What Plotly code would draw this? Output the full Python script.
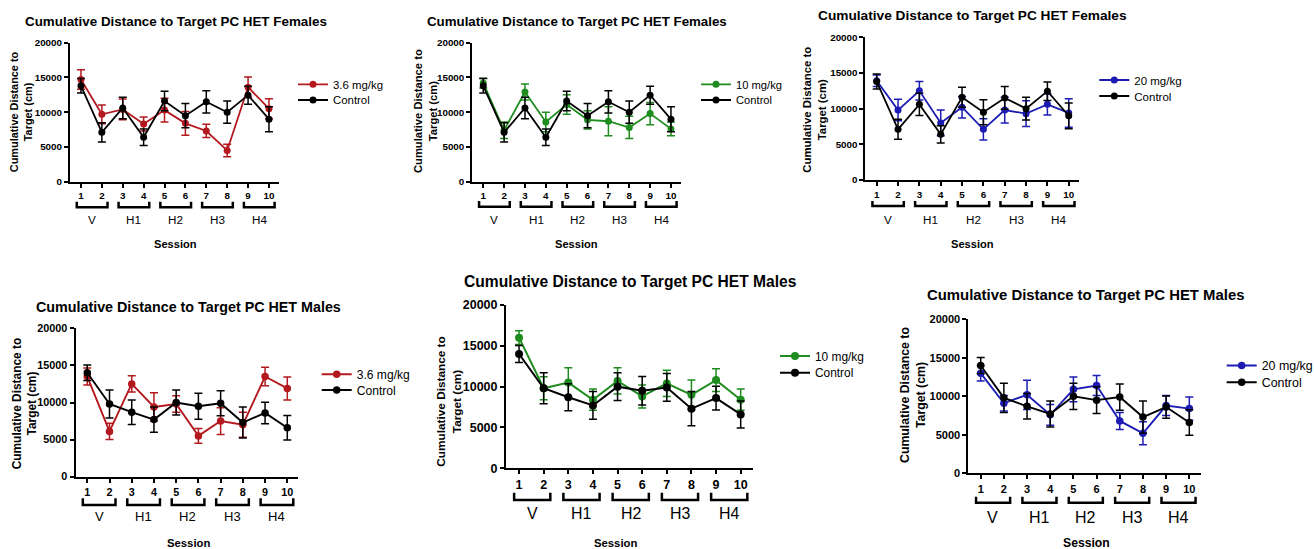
import plotly.graph_objects as go

W, H = 1314, 549
FONT = "Liberation Sans, Arial, sans-serif"

# ---------------- data ----------------
sessions = [1, 2, 3, 4, 5, 6, 7, 8, 9, 10]
session_labels = ["1", "2", "3", "4", "5", "6", "7", "8", "9", "10"]
groups = ["V", "H1", "H2", "H3", "H4"]
group_sessions = [(1, 2), (3, 4), (5, 6), (7, 8), (9, 10)]
y_ticks = [0, 5000, 10000, 15000, 20000]
y_tick_labels = ["0", "5000", "10000", "15000", "20000"]

female_control = [13800, 7100, 10600, 6400, 11600, 9500, 11500, 10000, 12450, 9000]
female_control_sem = [1050, 1400, 1550, 1200, 1400, 1750, 1600, 1600, 1300, 1800]
male_control = [14000, 9800, 8700, 7700, 10000, 9500, 9900, 7300, 8600, 6600]
male_control_sem = [1050, 1900, 1650, 1700, 1700, 1750, 1700, 2100, 1450, 1650]

female_36 = [14700, 9700, 10400, 8300, 10300, 8400, 7300, 4500, 13600, 10500]
female_36_sem = [1400, 1350, 1500, 1000, 1700, 1700, 950, 900, 1450, 1450]
female_10 = [14200, 7400, 12900, 8600, 11100, 8900, 8700, 7800, 9800, 7600]
female_10_sem = [700, 1200, 1150, 1400, 1400, 1300, 2100, 1600, 1600, 1000]
female_20 = [13900, 9800, 12500, 8000, 10200, 7100, 9800, 9300, 10600, 9400]
female_20_sem = [800, 1500, 1300, 1800, 1500, 1500, 1800, 1800, 1500, 2000]

male_36 = [13500, 6100, 12500, 9400, 9800, 5500, 7500, 7000, 13500, 11900]
male_36_sem = [1150, 1100, 1100, 1900, 1100, 1000, 1800, 1700, 1250, 1550]
male_10 = [16000, 9800, 10500, 8400, 10700, 8800, 10400, 9000, 10800, 8400]
male_10_sem = [850, 1400, 1800, 1300, 1600, 1400, 1600, 1800, 1400, 1300]
male_20 = [13000, 9100, 10200, 7600, 10900, 11400, 6800, 5200, 8800, 8400]
male_20_sem = [1000, 1000, 1900, 1350, 1600, 1300, 1100, 1500, 1300, 1500]

title_f = "Cumulative Distance to Target PC HET Females"
title_m = "Cumulative Distance to Target PC HET Males"
y_title = "Cumulative Distance to<br>Target (cm)"
x_title = "Session"
control_label = "Control"
dose_labels = ["3.6 mg/kg", "10 mg/kg", "20 mg/kg"]
dose_colors = ["#B3191E", "#1E8C1E", "#1C1CB4"]

panel_data = [
    (title_f, female_36, female_36_sem, 0, female_control, female_control_sem),
    (title_f, female_10, female_10_sem, 1, female_control, female_control_sem),
    (title_f, female_20, female_20_sem, 2, female_control, female_control_sem),
    (title_m, male_36, male_36_sem, 0, male_control, male_control_sem),
    (title_m, male_10, male_10_sem, 1, male_control, male_control_sem),
    (title_m, male_20, male_20_sem, 2, male_control, male_control_sem),
]

# ---------------- layout geometry (pixels) ----------------
panel_geo = [
    dict(x0=69.9, x1=279.4, ytop=42.7, ybot=181.7, tfs=13.4, tx=175.5, ty=21.7,
         yt_x=21.7, yt_y=111.5, ytfs=10.9, tickfs=9.8, leg_x=333, leg_y1=84.3, leg_y2=100, legfs=11.4,
         br_top=201.7, br_bar=207.3, gy=220, gfs=11.7, sx=175, sy=244.3, sfs=11.1, ms=7, lw=1.8),
    dict(x0=472.2, x1=681.4, ytop=42.7, ybot=181.7, tfs=13.3, tx=576.8, ty=21.7,
         yt_x=425, yt_y=111, ytfs=11.2, tickfs=9.8, leg_x=736, leg_y1=84.3, leg_y2=100, legfs=11.2,
         br_top=201, br_bar=206.7, gy=220, gfs=11.7, sx=576.7, sy=244.3, sfs=11.1, ms=7, lw=1.8),
    dict(x0=865.4, x1=1079.4, ytop=37.3, ybot=180, tfs=13.7, tx=972, ty=16,
         yt_x=814.7, yt_y=110, ytfs=11.4, tickfs=9.8, leg_x=1134.3, leg_y1=80, leg_y2=96, legfs=11.5,
         br_top=201, br_bar=206, gy=219, gfs=11.7, sx=972.3, sy=244, sfs=11.1, ms=7, lw=1.8),
    dict(x0=75.5, x1=298.4, ytop=328.3, ybot=476.7, tfs=14.3, tx=188.3, ty=306.7,
         yt_x=24, yt_y=403.3, ytfs=11.9, tickfs=10.8, leg_x=356.7, leg_y1=374.3, leg_y2=390, legfs=12.1,
         br_top=498.3, br_bar=505, gy=516.7, gfs=13, sx=188.3, sy=543.3, sfs=11.3, ms=7.5, lw=1.9),
    dict(x0=506, x1=753, ytop=305, ybot=468.3, tfs=15.6, tx=630, ty=281.7,
         yt_x=449, yt_y=401.7, ytfs=11.8, tickfs=12.5, leg_x=815, leg_y1=356, leg_y2=372.7, legfs=11.9,
         br_top=492.7, br_bar=500, gy=513.3, gfs=15.9, sx=615, sy=542.7, sfs=11.3, ms=8, lw=2),
    dict(x0=968.4, x1=1200.9, ytop=319.3, ybot=473.3, tfs=14.9, tx=1085.5, ty=295,
         yt_x=913, yt_y=395, ytfs=12.3, tickfs=11, leg_x=1261.7, leg_y1=366, leg_y2=382.7, legfs=12.4,
         br_top=496.7, br_bar=502.7, gy=517.3, gfs=16, sx=1086, sy=543.3, sfs=12.2, ms=7.5, lw=1.9),
]


def fx(px):
    return px / W


def fy(py):
    return 1 - py / H


fig = go.Figure()
layout = dict(
    width=W, height=H, margin=dict(l=0, r=0, t=0, b=0, pad=0, autoexpand=False),
    paper_bgcolor="white", plot_bgcolor="white",
    font=dict(family=FONT, color="black"),
    annotations=[], shapes=[],
)

legend_idx = 0
for i, ((title, vals, sem, dose_i, ctrl, ctrl_sem), g) in enumerate(zip(panel_data, panel_geo)):
    n = i + 1
    xa = "x" if n == 1 else f"x{n}"
    ya = "y" if n == 1 else f"y{n}"
    series = [
        (dose_labels[dose_i], vals, sem, dose_colors[dose_i], g["leg_y1"]),
        (control_label, ctrl, ctrl_sem, "black", g["leg_y2"]),
    ]
    for name, v, e, c, ly in series:
        legend_idx += 1
        lname = "legend" if legend_idx == 1 else f"legend{legend_idx}"
        fig.add_trace(go.Scatter(
            x=sessions, y=v, name=name, mode="lines+markers",
            line=dict(color=c, width=g["lw"]),
            marker=dict(color=c, size=g["ms"]),
            error_y=dict(type="data", array=e, color=c, thickness=1.5, width=4),
            xaxis=xa, yaxis=ya, legend=lname, showlegend=True,
        ))
        layout[lname] = dict(
            x=fx(g["leg_x"] - 40), y=fy(ly), xanchor="left", yanchor="middle",
            bgcolor="rgba(0,0,0,0)", borderwidth=0, itemwidth=30,
            font=dict(family=FONT, size=g["legfs"], color="black"),
            tracegroupgap=0,
        )

    tickfont = dict(family=FONT, size=g["tickfs"], color="black", weight="bold")
    layout[f"xaxis{'' if n == 1 else n}"] = dict(
        domain=[fx(g["x0"]), fx(g["x1"])], range=[0.47, 10.5], anchor=ya,
        tickmode="array", tickvals=sessions, ticktext=session_labels,
        showline=True, linewidth=2, linecolor="black", ticks="outside",
        ticklen=4, tickwidth=1.5, tickcolor="black", tickfont=tickfont,
        showgrid=False, zeroline=False, automargin=False,
    )
    layout[f"yaxis{'' if n == 1 else n}"] = dict(
        domain=[fy(g["ybot"]), fy(g["ytop"])], range=[0, 20000], anchor=xa,
        tickmode="array", tickvals=y_ticks, ticktext=y_tick_labels,
        showline=True, linewidth=2, linecolor="black", ticks="outside",
        ticklen=4, tickwidth=1.5, tickcolor="black", tickfont=tickfont,
        showgrid=False, zeroline=False, automargin=False,
    )

    ann = layout["annotations"]
    ann.append(dict(text=f"<b>{title}</b>", x=fx(g["tx"]), y=fy(g["ty"]), xref="paper", yref="paper",
                    xanchor="center", yanchor="middle", showarrow=False,
                    font=dict(family=FONT, size=g["tfs"], color="black")))
    ann.append(dict(text=f"<b>{y_title}</b>", x=fx(g["yt_x"]), y=fy(g["yt_y"]), xref="paper", yref="paper",
                    xanchor="center", yanchor="middle", showarrow=False, textangle=-90,
                    font=dict(family=FONT, size=g["ytfs"], color="black")))
    ann.append(dict(text=f"<b>{x_title}</b>", x=fx(g["sx"]), y=fy(g["sy"]), xref="paper", yref="paper",
                    xanchor="center", yanchor="middle", showarrow=False,
                    font=dict(family=FONT, size=g["sfs"], color="black")))
    for label, (a, b) in zip(groups, group_sessions):
        ann.append(dict(text=label, x=(a + b) / 2 + 0.03, y=fy(g["gy"]), xref=xa, yref="paper",
                        xanchor="center", yanchor="middle", showarrow=False,
                        font=dict(family=FONT, size=g["gfs"], color="black")))
        yt, yb = fy(g["br_top"]), fy(g["br_bar"])
        xl, xr = a - 0.2, b + 0.27
        layout["shapes"].append(dict(
            type="path", xref=xa, yref="paper",
            path=f"M {xl},{yt} L {xl},{yb} L {xr},{yb} L {xr},{yt}",
            line=dict(color="black", width=2.5),
        ))

fig.update_layout(**layout)
fig.write_html("out.html")
